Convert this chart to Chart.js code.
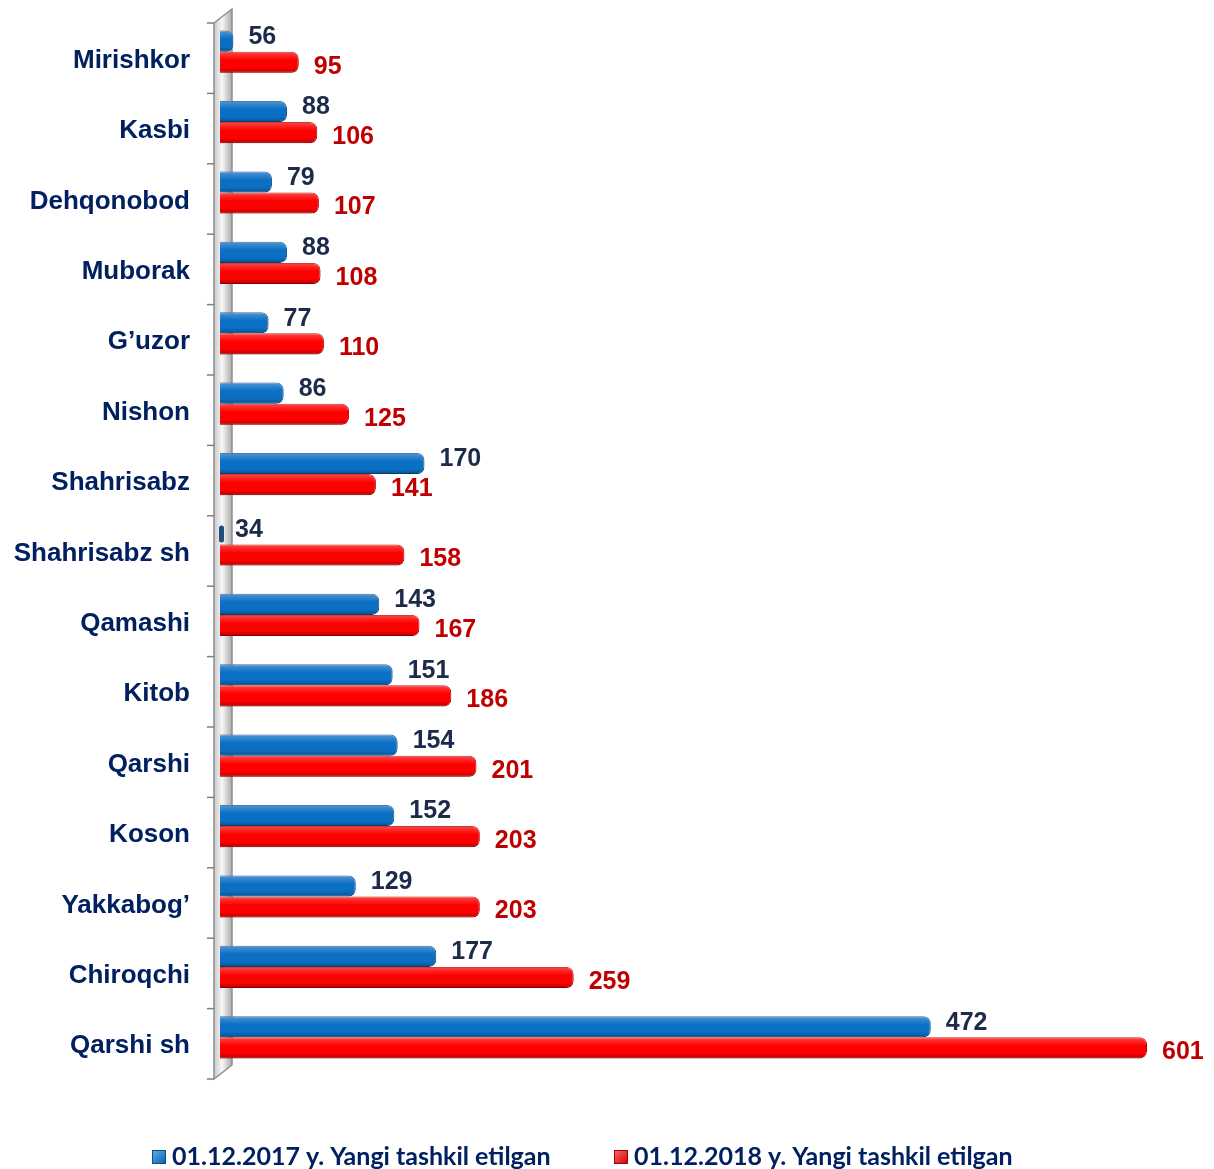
<!DOCTYPE html>
<html>
<head>
<meta charset="utf-8">
<script src="https://cdn.jsdelivr.net/npm/chart.js@4/dist/chart.umd.min.js"></script>
<style>
  html, body { margin: 0; padding: 0; background: #fff; }
  #wrap { width: 1214px; height: 1169px; }
</style>
</head>
<body>
<div id="wrap"><canvas id="chart" width="1214" height="1169"></canvas></div>
<script>
const districts = ['Mirishkor', 'Kasbi', 'Dehqonobod', 'Muborak', 'G\u2019uzor', 'Nishon', 'Shahrisabz',
    'Shahrisabz sh', 'Qamashi', 'Kitob', 'Qarshi', 'Koson', 'Yakkabog\u2019', 'Chiroqchi', 'Qarshi sh'];
const values2017 = [56, 88, 79, 88, 77, 86, 170, 34, 143, 151, 154, 152, 129, 177, 472];
const values2018 = [95, 106, 107, 108, 110, 125, 141, 158, 167, 186, 201, 203, 203, 259, 601];
const seriesNames = ['01.12.2017 y. Yangi tashkil etilgan', '01.12.2018 y. Yangi tashkil etilgan'];

const navy = '#002060';
const arial = 'Arial, "Liberation Sans", Helvetica, sans-serif';
const shift = 6.5; // bars sit a bit higher than the category bands (3D depth)

// gray 3D back wall behind the bars
const wallPlugin = {
    id: 'wall',
    beforeDatasetsDraw(chart) {
        const { ctx, chartArea: ca } = chart;
        const x0 = ca.left - 6, x1 = ca.left + 12;
        const top = ca.top + shift, bottom = ca.bottom + shift, depth = 14;
        ctx.save();
        const g = ctx.createLinearGradient(x0, 0, x1, 0);
        g.addColorStop(0, '#c8c8c8');
        g.addColorStop(0.45, '#f7f7f7');
        g.addColorStop(1, '#a9a9a9');
        ctx.beginPath();
        ctx.moveTo(x0, top);
        ctx.lineTo(x1, top - depth);
        ctx.lineTo(x1, bottom - depth);
        ctx.lineTo(x0, bottom);
        ctx.closePath();
        ctx.fillStyle = g;
        ctx.fill();
        ctx.strokeStyle = '#8f8f8f';
        ctx.lineWidth = 1.5;
        ctx.stroke();
        // tick marks at band boundaries
        ctx.strokeStyle = '#7f7f7f';
        const step = (ca.bottom - ca.top) / districts.length;
        for (let i = 0; i <= districts.length; i++) {
            const yy = top + i * step;
            ctx.beginPath();
            ctx.moveTo(x0 - 7, yy);
            ctx.lineTo(x0, yy);
            ctx.stroke();
        }
        ctx.restore();
    }
};

// glossy shading over bars and value labels
const barLabelPlugin = {
    id: 'barLabels',
    afterDatasetsDraw(chart) {
        const { ctx, chartArea: ca } = chart;
        ctx.save();
        chart.data.datasets.forEach((ds, di) => {
            const meta = chart.getDatasetMeta(di);
            meta.data.forEach((bar, i) => {
                const p = bar.getProps(['x', 'y', 'base', 'height'], true);
                const left = Math.max(p.base, ca.left);
                const w = p.x - left;
                if (w > 2) {
                    ctx.save();
                    ctx.beginPath();
                    ctx.roundRect(left, p.y - p.height / 2, w, p.height, [0, 7, 7, 0]);
                    ctx.clip();
                    const g = ctx.createLinearGradient(0, p.y - p.height / 2, 0, p.y + p.height / 2);
                    g.addColorStop(0, 'rgba(255,255,255,0.28)');
                    g.addColorStop(0.4, 'rgba(255,255,255,0)');
                    g.addColorStop(0.75, 'rgba(0,0,0,0)');
                    g.addColorStop(1, 'rgba(0,0,0,0.28)');
                    ctx.fillStyle = g;
                    ctx.fillRect(left, p.y - p.height / 2, w, p.height);
                    ctx.restore();
                } else {
                    // value below axis start: thin sliver against the wall
                    ctx.fillStyle = '#1f4e79';
                    ctx.beginPath();
                    ctx.roundRect(ca.left - 1, p.y - p.height / 2 + 2, 5, p.height - 4, 2.5);
                    ctx.fill();
                }
                ctx.font = 'bold 25px ' + arial;
                ctx.textAlign = 'left';
                ctx.textBaseline = 'middle';
                ctx.fillStyle = di === 0 ? '#1c2b4a' : '#c00000';
                const lx = Math.max(p.x, ca.left) + 15;
                ctx.fillText(String(ds.data[i]), lx, p.y + (di === 0 ? -4 : 4.5));
            });
        });
        ctx.restore();
    }
};

// legend at the bottom
const legendPlugin = {
    id: 'bottomLegend',
    afterDraw(chart) {
        const { ctx } = chart;
        const items = [
            { x: 152, c1: '#5fb0f0', c2: '#0a5fa8', edge: '#0b4d86' },
            { x: 614, c1: '#ff6a6a', c2: '#d00000', edge: '#a00000' }
        ];
        ctx.save();
        ctx.font = 'bold 25px Lato, "Open Sans", sans-serif';
        ctx.textBaseline = 'alphabetic';
        ctx.textAlign = 'left';
        items.forEach((it, i) => {
            const g = ctx.createLinearGradient(it.x, 1150, it.x + 14, 1164);
            g.addColorStop(0, it.c1);
            g.addColorStop(1, it.c2);
            ctx.fillStyle = g;
            ctx.fillRect(it.x, 1150, 14, 14);
            ctx.strokeStyle = it.edge;
            ctx.lineWidth = 1;
            ctx.strokeRect(it.x + 0.5, 1150.5, 13, 13);
            ctx.fillStyle = navy;
            ctx.fillText(seriesNames[i], it.x + 20, 1165);
        });
        ctx.restore();
    }
};

const ctx = document.getElementById('chart').getContext('2d');
new Chart(ctx, {
    type: 'bar',
    data: {
        labels: districts,
        datasets: [
            {
                label: seriesNames[0],
                data: values2017,
                backgroundColor: '#0b6fc4',
                borderColor: '#0d4f8a',
                borderWidth: 1,
                borderRadius: 7
            },
            {
                label: seriesNames[1],
                data: values2018,
                backgroundColor: '#ff0000',
                borderColor: '#b00000',
                borderWidth: 1,
                borderRadius: 7
            }
        ]
    },
    options: {
        indexAxis: 'y',
        responsive: false,
        animation: false,
        devicePixelRatio: 1,
        categoryPercentage: 0.6,
        barPercentage: 1.0,
        layout: { padding: { top: 16.5, bottom: 96.5, right: 67, left: 0 } },
        plugins: {
            legend: { display: false },
            tooltip: { enabled: false }
        },
        scales: {
            x: {
                display: false,
                min: 48,
                max: 601
            },
            y: {
                afterFit: s => {
                    s.width = 220;
                    s.paddingTop = 0;
                    s.paddingBottom = 0;
                },
                grid: { display: false, drawTicks: false },
                border: { display: false },
                ticks: {
                    padding: 30,
                    labelOffset: 9,
                    color: navy,
                    font: { family: arial, size: 26, weight: 'bold' }
                }
            }
        }
    },
    plugins: [wallPlugin, barLabelPlugin, legendPlugin]
});
</script>
</body>
</html>
